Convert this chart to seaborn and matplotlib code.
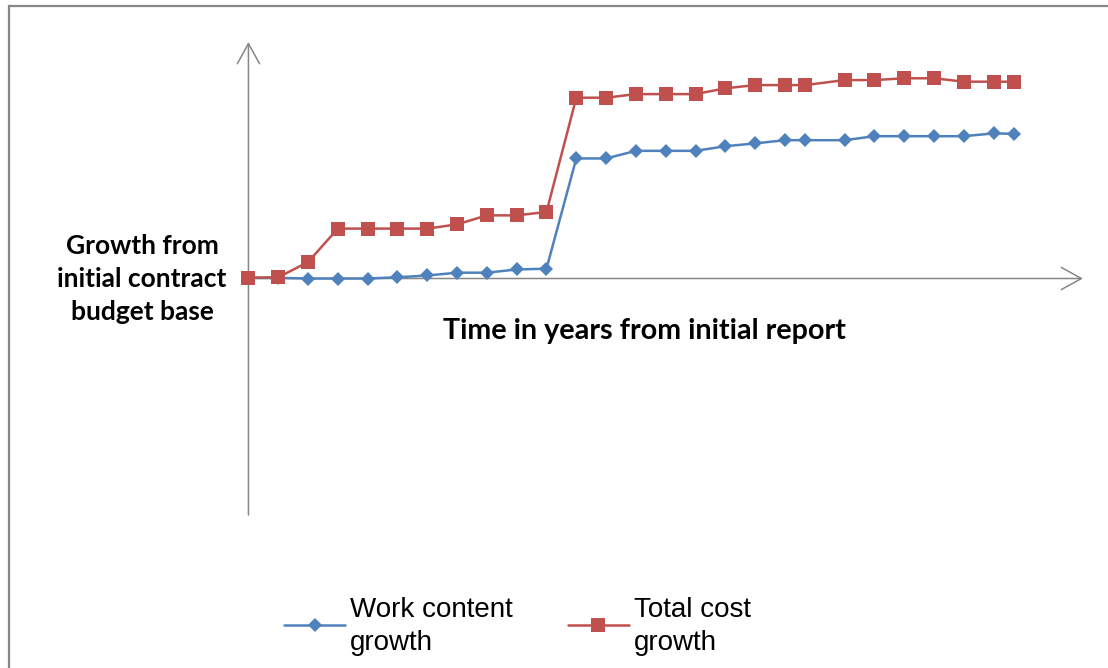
import numpy as np
import pandas as pd
import matplotlib.pyplot as plt
import seaborn as sns
from matplotlib.patches import Rectangle

# time from initial report (years) and growth over the initial budget base (%)
years = [0.0, 0.25, 0.5, 0.75, 1.0, 1.25, 1.5, 1.75, 2.0, 2.25, 2.5, 2.75, 3.0,
         3.25, 3.5, 3.75, 4.0, 4.25, 4.5, 4.67, 5.0, 5.25, 5.5, 5.75, 6.0, 6.25, 6.42]
work_content = [0.3, 0.3, 0.0, 0.0, 0.0, 0.6, 1.5, 2.9, 2.9, 4.5, 4.9, 59.9, 59.9,
                63.7, 63.7, 63.7, 66.0, 67.4, 69.0, 69.0, 69.0, 71.0, 71.0, 71.0, 71.0, 72.4, 72.2]
total_cost = [0.4, 0.6, 8.2, 24.9, 24.9, 24.9, 24.9, 27.0, 31.5, 31.5, 33.2, 90.2, 90.2,
              92.0, 92.0, 92.0, 94.9, 96.5, 96.5, 96.5, 99.0, 99.0, 99.9, 99.9, 98.2, 98.2, 98.2]
series_names = ["Work content growth", "Total cost growth"]
legend_labels = ["Work content\ngrowth", "Total cost\ngrowth"]

df = pd.DataFrame({
    "year": years * 2,
    "growth": work_content + total_cost,
    "series": [series_names[0]] * len(years) + [series_names[1]] * len(years),
})

sns.set_style("white")
plt.rcParams["font.family"] = ["Liberation Sans", "DejaVu Sans"]
plt.rcParams["text.color"] = "black"

W, H = 1108, 668
fig = plt.figure(figsize=(W / 100, H / 100), dpi=100)
fig.patch.set_facecolor("white")

# axes placed in pixel terms so the arrows land where the original ones are
ax_left, ax_right, ax_top, ax_bottom = 247, 1083, 42, 515
ax = fig.add_axes([ax_left / W, 1 - ax_bottom / H,
                   (ax_right - ax_left) / W, (ax_bottom - ax_top) / H])

palette = {series_names[0]: "#4F81BD", series_names[1]: "#C0504D"}
sns.lineplot(data=df, x="year", y="growth", hue="series", style="series",
             palette=palette, markers={series_names[0]: "D", series_names[1]: "s"},
             dashes=False, linewidth=1.8, markersize=8, markeredgewidth=0,
             ax=ax, legend=True)
# square a bit bigger than the diamond
for line in ax.get_lines():
    line.set_clip_on(False)
    line.set_zorder(3)
    if line.get_marker() == "s":
        line.set_markersize(9.5)
    elif line.get_marker() == "D":
        line.set_markersize(7.2)

ax.set_xlim(-0.012, 7.0)
ax.set_ylim(-118, 118)
ax.set_xlabel("")
ax.set_ylabel("")
ax.set_xticks([])
ax.set_yticks([])
for s in ax.spines.values():
    s.set_visible(False)

axis_col = "#878787"
arrow = dict(arrowstyle="->,head_length=1.45,head_width=0.8", color=axis_col,
             lw=1.1, shrinkA=0, shrinkB=0, mutation_scale=10)
ax.annotate("", xy=(0, 1), xytext=(0, 0), xycoords=("data", "axes fraction"),
            arrowprops=arrow, annotation_clip=False, zorder=1)
ax.annotate("", xy=(1, 0), xytext=(0, 0), xycoords=("axes fraction", "data"),
            arrowprops=arrow, annotation_clip=False, zorder=1)

# axis captions
fig.text(142 / W, 1 - 279 / H, "Growth from\ninitial contract\nbudget base",
         ha="center", va="center", fontsize=19, fontweight="bold",
         family=["Lato", "DejaVu Sans"], linespacing=1.44)
fig.text(644 / W, 1 - 331 / H, "Time in years from initial report",
         ha="center", va="center", fontsize=20.7, fontweight="bold",
         family=["Lato", "DejaVu Sans"])

# legend below the plot
handles, labels = ax.get_legend_handles_labels()
ax.get_legend().remove()
lookup = dict(zip(labels, handles))
leg = fig.legend([lookup[n] for n in series_names], legend_labels,
                 loc="upper left", bbox_to_anchor=(284 / W, 1 - 597 / H),
                 ncol=2, frameon=False, fontsize=20, borderpad=0, borderaxespad=0,
                 handlelength=2.2, handleheight=1.13, handletextpad=0.18,
                 columnspacing=1.97, labelspacing=0.2)
for t in leg.get_texts():
    t.set_linespacing(1.36)

# chart area border
fig.add_artist(Rectangle((9 / W, -0.1), 1.2, 1.1 - 6 / H, transform=fig.transFigure,
                         fill=False, ec=axis_col, lw=1.6))

fig.savefig("out.png", dpi=100)
